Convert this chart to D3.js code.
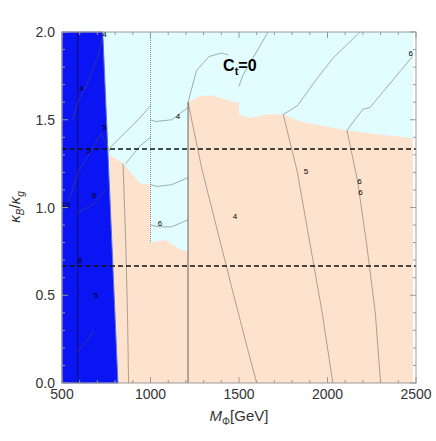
<!DOCTYPE html><html><head><script src="https://cdn.jsdelivr.net/npm/d3@7"></script>
<style>body{margin:0;background:#fff}text{font-family:"Liberation Sans",Arial,sans-serif}</style></head><body><svg width="436" height="441"></svg>
<script>
const xTicks=[500,1000,1500,2000,2500], yTicks=[0,0.5,1.0,1.5,2.0];
const blueRegion=[[500,0],[500,2],[730,2],[816,0]];
const boundary=[[770,1.30],[845,1.25],[940,1.14],[1000,1.13],[1000,0.80],[1082,0.815],[1167,0.76],[1212,0.75],[1212,1.60],[1280,1.635],[1353,1.64],[1466,1.60],[1500,1.60],[1500,1.53],[1562,1.51],[1657,1.53],[1750,1.53],[1845,1.49],[2000,1.46],[2110,1.44],[2257,1.42],[2483,1.395]];
const contours=[
 [[1212,1.60],[1290,1.22],[1380,0.86],[1470,0.50],[1560,0.15],[1600,0]],
 [[1750,1.53],[1830,1.20],[1900,0.80],[1970,0.40],[2030,0]],
 [[2110,1.44],[2170,1.15],[2220,0.80],[2270,0.40],[2300,0]],
 [[845,1.25],[860,0.80],[870,0.40],[876,0]],
 [[1212,1.60],[1260,1.78],[1330,1.86],[1400,1.88],[1440,1.87]],
 [[1500,1.69],[1520,1.75],[1664,2.0]],
 [[1750,1.53],[1830,1.58],[1930,1.72],[2030,1.85],[2183,2.0]],
 [[2110,1.44],[2200,1.56],[2240,1.57],[2480,1.86]],
 [[730,1.98],[700,1.85],[640,1.70],[589,1.60],[560,1.50]],
 [[770,1.32],[720,1.42],[640,1.28],[589,1.20],[560,1.10],[520,1.00],[500,0.97]],
 [[1000,1.40],[940,1.35],[860,1.25]],
 [[1000,1.58],[930,1.50],[830,1.40],[770,1.34]],
 [[1000,1.50],[1030,1.49],[1120,1.50],[1212,1.57]],
 [[1000,1.13],[1040,1.12],[1120,1.13],[1212,1.17]],
 [[1000,0.90],[1050,0.89],[1120,0.89],[1212,0.93]],
 [[745,1.10],[680,1.02],[589,0.97]],
 [[589,0.18],[640,0.24],[680,0.30]]
];
const labels=[["4",740,1.99],["4",610,1.68],["5",740,1.46],["5",650,1.33],["6",680,1.07],["10",520,1.02],["8",600,0.70],["5",690,0.50],["4",1155,1.52],["6",1054,0.91],["4",1477,0.95],["5",1878,1.21],["6",2180,1.15],["6",2186,1.09],["6",2470,1.88]];
const svg=d3.select("svg");
const x=d3.scaleLinear().domain([500,2500]).range([62,416]);
const y=d3.scaleLinear().domain([0,2]).range([383,32]);
const line=d3.line().x(d=>x(d[0])).y(d=>y(d[1]));
svg.append("rect").attr("x",x(500)).attr("y",y(2)).attr("width",x(2483)-x(500)).attr("height",y(0)-y(2)).attr("fill","#e2fdff");
const peach=[[770,0],[770,1.30],...boundary,[2483,0]];
svg.append("path").attr("d",line(peach)+"Z").attr("fill","#fde2cd");
svg.append("path").attr("d",line(blueRegion)+"Z").attr("fill","#0b14f2").attr("stroke","#5a6fd8").attr("stroke-width",1);
svg.append("line").attr("x1",x(589)).attr("x2",x(589)).attr("y1",y(2)).attr("y2",y(0)).attr("stroke","#111").attr("stroke-width",0.6);
svg.append("line").attr("x1",x(1000)).attr("x2",x(1000)).attr("y1",y(2)).attr("y2",y(0.8)).attr("stroke","#666").attr("stroke-width",0.7).attr("stroke-dasharray","1,1");
svg.append("line").attr("x1",x(1212)).attr("x2",x(1212)).attr("y1",y(1.6)).attr("y2",y(0)).attr("stroke","#444").attr("stroke-width",0.8);
contours.forEach(c=>svg.append("path").attr("d",line(c)).attr("fill","none").attr("stroke","#555").attr("stroke-width",0.6).attr("stroke-opacity",0.8));
labels.forEach(l=>svg.append("text").attr("x",x(l[1])).attr("y",y(l[2])+3).attr("text-anchor","middle").attr("font-size",8).text(l[0]));
[0.667,1.333].forEach(v=>svg.append("line").attr("x1",x(500)).attr("x2",x(2500)).attr("y1",y(v)).attr("y2",y(v)).attr("stroke","#111").attr("stroke-width",1.4).attr("stroke-dasharray","5,3"));
svg.append("text").attr("x",x(1410)).attr("y",y(1.78)).attr("font-size",16).attr("font-weight","bold").html('C<tspan font-size="11" dy="4">t</tspan><tspan dy="-4">=0</tspan>');
svg.append("rect").attr("x",62).attr("y",32).attr("width",354).attr("height",351).attr("fill","none").attr("stroke","#999");
const minorX=d3.range(500,2501,100), minorY=d3.range(0,2.001,0.1);
const tk=svg.append("g").attr("stroke","#999");
minorX.forEach(v=>{const L=v%500===0?6:3;tk.append("line").attr("x1",x(v)).attr("x2",x(v)).attr("y1",383).attr("y2",383-L);tk.append("line").attr("x1",x(v)).attr("x2",x(v)).attr("y1",32).attr("y2",32+L);});
minorY.forEach(v=>{const L=Math.abs(v*2-Math.round(v*2))<1e-6?6:3;tk.append("line").attr("y1",y(v)).attr("y2",y(v)).attr("x1",62).attr("x2",62+L);tk.append("line").attr("y1",y(v)).attr("y2",y(v)).attr("x1",416).attr("x2",416-L);});
xTicks.forEach(v=>svg.append("text").attr("x",x(v)).attr("y",399).attr("text-anchor","middle").attr("font-size",14).attr("fill","#333").text(v));
yTicks.forEach(v=>svg.append("text").attr("x",55).attr("y",y(v)+5).attr("text-anchor","end").attr("font-size",14).attr("fill","#333").text(v.toFixed(1)));
svg.append("text").attr("x",239).attr("y",421).attr("text-anchor","middle").attr("font-size",15).attr("fill","#333").html('<tspan font-style="italic">M</tspan><tspan font-size="10" dy="4">Φ</tspan><tspan dy="-4">[GeV]</tspan>');
svg.append("text").attr("transform","translate(20,207) rotate(-90)").attr("text-anchor","middle").attr("font-size",15).attr("fill","#333").html('<tspan font-style="italic">κ</tspan><tspan font-size="10" dy="4" font-style="italic">B</tspan><tspan dy="-4">/</tspan><tspan font-style="italic">κ</tspan><tspan font-size="10" dy="4" font-style="italic">g</tspan>');
</script></body></html>
